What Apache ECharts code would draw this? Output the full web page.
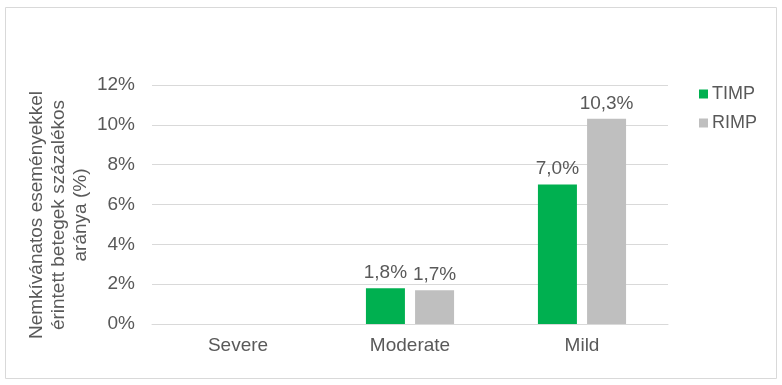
<!DOCTYPE html>
<html>
<head>
<meta charset="utf-8">
<script src="https://cdn.jsdelivr.net/npm/echarts@6/dist/echarts.min.js"></script>
<style>
html,body{margin:0;padding:0;background:#fff;}
#c{width:782px;height:385px;}
</style>
</head>
<body>
<div id="c"></div>
<script>
const categories = ['Severe', 'Moderate', 'Mild'];
const timpValues = [0, 1.8, 7.0];
const rimpValues = [0, 1.7, 10.3];
const seriesNames = ['TIMP', 'RIMP'];
const yTicks = [0, 2, 4, 6, 8, 10, 12];
const yTitle = 'Nemkívánatos eseményekkel\nérintett betegek százalékos\naránya (%)';

const FONT = 'Liberation Sans, Arial, sans-serif';
const TXT = '#595959';
const FS = 19;

const chart = echarts.init(document.getElementById('c'));
const fmt = p => p.value ? p.value.toFixed(1).replace('.', ',') + '%' : '';

chart.setOption({
  animation: false,
  textStyle: { fontFamily: FONT },
  graphic: [
    { type: 'rect', shape: { x: 5.5, y: 7.5, width: 771, height: 371 },
      style: { fill: 'none', stroke: '#d9d9d9', lineWidth: 1 }, z: -1 },
    { type: 'text', x: 59, y: 215, rotation: Math.PI / 2,
      style: { text: yTitle, fill: TXT, font: FS + 'px ' + FONT,
               textAlign: 'center', textVerticalAlign: 'middle', lineHeight: 22 } }
  ],
  grid: { left: 152, right: 114, top: 85, bottom: 61 },
  legend: {
    orient: 'vertical', left: 694, top: 80,
    itemWidth: 9, itemHeight: 9, itemGap: 11,
    icon: 'rect',
    textStyle: { color: TXT, fontSize: 18, fontFamily: FONT, padding: [0, 0, 0, -1] },
    data: seriesNames
  },
  xAxis: {
    type: 'category', data: categories,
    axisLine: { lineStyle: { color: '#d9d9d9' } },
    axisTick: { show: false },
    axisLabel: { color: TXT, fontSize: FS, margin: 12, fontFamily: FONT }
  },
  yAxis: {
    type: 'value', min: yTicks[0], max: yTicks[yTicks.length - 1], interval: 2,
    axisLabel: { color: TXT, fontSize: FS, margin: 17, fontFamily: FONT, formatter: v => v + '%' },
    splitLine: { lineStyle: { color: '#d9d9d9' } },
    axisLine: { show: false }, axisTick: { show: false }
  },
  series: [
    { name: seriesNames[0], type: 'bar', data: timpValues, barWidth: 39, barGap: '26%',
      itemStyle: { color: '#00B050' },
      label: { show: true, position: 'top', distance: 6, color: TXT, fontSize: FS, fontFamily: FONT, formatter: fmt } },
    { name: seriesNames[1], type: 'bar', data: rimpValues, barWidth: 39,
      itemStyle: { color: '#BFBFBF' },
      label: { show: true, position: 'top', distance: 6, color: TXT, fontSize: FS, fontFamily: FONT, formatter: fmt } }
  ]
});
</script>
</body>
</html>
